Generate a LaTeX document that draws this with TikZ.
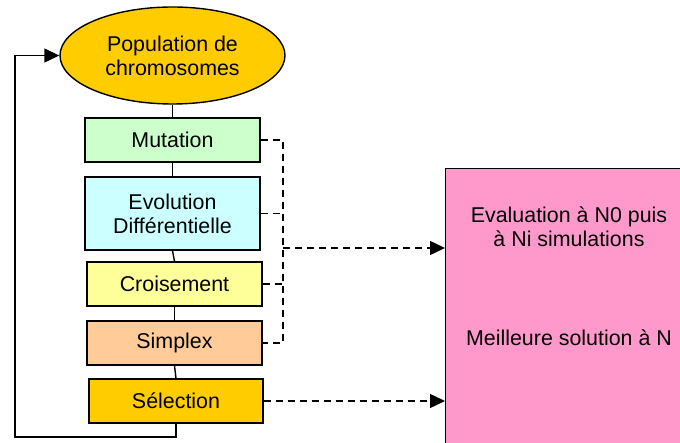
\documentclass[tikz,border=0pt]{standalone}
\usepackage{fontspec}
\setmainfont{Liberation Sans}
\usetikzlibrary{arrows.meta,shapes.geometric}
\definecolor{cOrange}{HTML}{FFCC00}
\definecolor{cGreen}{HTML}{CCFFCC}
\definecolor{cCyan}{HTML}{CCFFFF}
\definecolor{cYellow}{HTML}{FFFF99}
\definecolor{cPeach}{HTML}{FFCC99}
\definecolor{cPink}{HTML}{FF99CC}
\begin{document}
\begin{tikzpicture}[x=1pt,y=-1pt,
  every node/.style={font=\fontsize{21.4}{24}\selectfont, inner sep=0pt, align=center},
  boxst/.style={draw=black, line width=1.4pt, rectangle, minimum width=175pt, minimum height=44pt},
  solidline/.style={line width=1.4pt},
  dashline/.style={line width=1.4pt, dash pattern=on 7pt off 5pt},
  tip/.style={-{Triangle[length=15pt,width=14pt]}}]
\useasboundingbox (0,0) rectangle (680,443);
\clip (0,0) rectangle (680,443);
\node[ellipse, draw, line width=1.4pt, fill=cOrange, minimum width=225pt, minimum height=97pt] (pop) at (172.5,55.5) {Population de\\chromosomes};
\node[boxst, fill=cGreen] (mut) at (172.5,140) {Mutation};
\node[boxst, fill=cCyan, minimum height=73pt] (evo) at (172.5,213.5) {Evolution\\Différentielle};
\node[boxst, fill=cYellow] (cro) at (174.5,284) {Croisement};
\node[boxst, fill=cPeach] (sim) at (174.5,343) {Simplex};
\node[boxst, fill=cOrange, minimum width=174pt] (sel) at (176,401) {Sélection};
\node[draw, line width=1.4pt, fill=cPink, rectangle, minimum width=260pt, minimum height=300pt, anchor=north west] (ev) at (445,168) {};
\node (t1) at (569,227) {Evaluation à N0 puis\\à Ni simulations};
\node (t2) at (569,338) {Meilleure solution à N};
% solid chain
\draw[solidline] (pop.south) -- (mut.north);
\draw[solidline] (mut.south) -- (evo.north);
\draw[solidline] (evo.south) -- (cro.north);
\draw[solidline] (cro.south) -- (sim.north);
\draw[solidline] (sim.south) -- (sel.north);
% feedback loop
\coordinate (loop) at (15,437);
\draw[solidline, tip] (sel.south) |- (loop) |- (pop.west);
% dashed bus
\coordinate (busx) at (283,0);
\coordinate (join) at (283,248);
\draw[dashline] (mut.east) -| (sim.east -| busx) -- (sim.east);
\draw[dashline] (evo.east) -- (evo.east -| busx);
\draw[dashline] (cro.east) -- (cro.east -| busx);
\draw[dashline, tip] (join) -- (join -| ev.west);
\draw[dashline, tip] (sel.east) -- (sel.east -| ev.west);
\end{tikzpicture}
\end{document}
